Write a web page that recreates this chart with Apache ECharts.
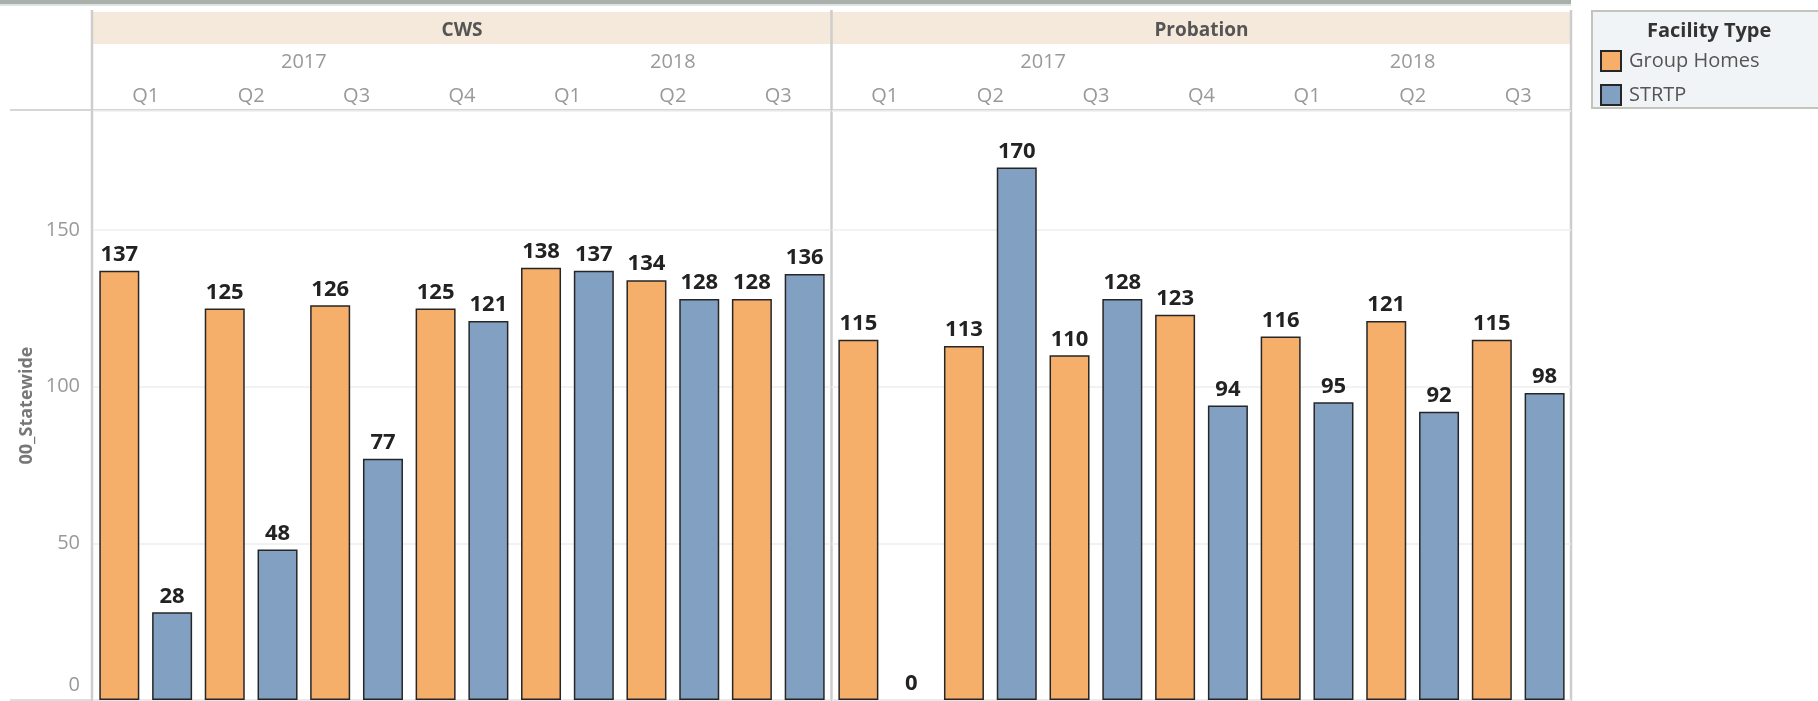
<!DOCTYPE html>
<html>
<head>
<meta charset="utf-8">
<script src="https://cdn.jsdelivr.net/npm/echarts@6/dist/echarts.min.js"></script>
<style>
  html, body { margin: 0; padding: 0; background: #fff; }
  #main { width: 1818px; height: 701px; }
</style>
</head>
<body>
<div id="main"></div>
<script>
'use strict'

// data
const panels = ['CWS', 'Probation'];
const years = ['2017', '2018'];
const quartersPerYear = [4, 3];
const quarters = ['Q1', 'Q2', 'Q3', 'Q4', 'Q1', 'Q2', 'Q3'];
const yTicks = [0, 50, 100, 150];

const cwsGroupHomes = [137, 125, 126, 125, 138, 134, 128];
const cwsStrtp = [28, 48, 77, 121, 137, 128, 136];
const probGroupHomes = [115, 113, 110, 123, 116, 121, 115];
const probStrtp = [0, 170, 128, 94, 95, 92, 98];

// layout
const font = '"Open Sans", "Liberation Sans", sans-serif';
const gridTop = 111;
const gridBottomY = 700;
const grids = [
    { left: 93, width: 738 },
    { left: 832, width: 739 }
];
const orange = '#F5AF6A';
const blue = '#82A0C1';

var myChart = echarts.init(document.getElementById('main'));

function barSeries(name, data, idx, color) {
    return {
        name: name,
        type: 'bar',
        xAxisIndex: idx,
        yAxisIndex: idx,
        // a zero bar has no visible outline
        data: data.map(function (v) {
            return v === 0 ? { value: v, itemStyle: { borderWidth: 0 } } : v;
        }),
        barWidth: 40,
        barGap: '32%',
        itemStyle: { color: color, borderColor: '#262626', borderWidth: 1.5 },
        label: {
            show: true,
            position: 'top',
            distance: 5,
            color: '#222',
            fontFamily: font,
            fontWeight: 'bold',
            fontSize: 22
        }
    };
}

// header texts and dividers
var graphics = [];
// top rule
graphics.push({ type: 'rect', shape: { x: 0, y: 0, width: 1571, height: 4 }, style: { fill: '#A9B0AB' } });
graphics.push({ type: 'rect', shape: { x: 0, y: 4, width: 1571, height: 2 }, style: { fill: '#DCE3E0' } });
// header band
graphics.push({ type: 'rect', shape: { x: 93, y: 12, width: 1478, height: 32 }, style: { fill: '#F4E9DA' } });
grids.forEach(function (g, i) {
    graphics.push({
        type: 'text', x: g.left + g.width / 2, y: 31,
        style: { text: panels[i], fill: '#555', font: 'bold 19px ' + font, align: 'center', verticalAlign: 'middle' }
    });
    let start = 0;
    years.forEach(function (yr, j) {
        let c = g.left + (start + quartersPerYear[j] / 2) / quarters.length * g.width;
        graphics.push({
            type: 'text', x: c, y: 62,
            style: { text: yr, fill: '#999', font: '20px ' + font, align: 'center', verticalAlign: 'middle' }
        });
        start += quartersPerYear[j];
    });
});
// rules
graphics.push({ type: 'line', shape: { x1: 10, y1: 110, x2: 1571, y2: 110 }, style: { stroke: '#D6D6D6', lineWidth: 2 } });
graphics.push({ type: 'line', shape: { x1: 10, y1: 700, x2: 1571, y2: 700 }, style: { stroke: '#DDDDDD', lineWidth: 2 } });
[92, 831.5, 1571].forEach(function (x) {
    graphics.push({ type: 'line', shape: { x1: x, y1: 10, x2: x, y2: 701 }, style: { stroke: '#CDCDCD', lineWidth: 2.5 } });
});
// legend box
graphics.push({
    type: 'rect', z: -1, shape: { x: 1592, y: 11, width: 240, height: 97 },
    style: { fill: '#F1F4F6', stroke: '#C4C4BC', lineWidth: 2 }
});

var option = {
    animation: false,
    backgroundColor: '#fff',
    title: {
        text: 'Facility Type',
        left: 1647,
        top: 21,
        padding: 0,
        textStyle: { color: '#333', fontFamily: font, fontWeight: 'bold', fontSize: 20 }
    },
    legend: {
        data: ['Group Homes', 'STRTP'],
        orient: 'vertical',
        left: 1600,
        top: 50,
        padding: 0,
        itemWidth: 20,
        itemHeight: 20,
        itemGap: 12,
        icon: 'rect',
        textStyle: { color: '#555', fontFamily: font, fontSize: 20, padding: [0, 0, 0, 3] }
    },
    grid: grids.map(function (g) {
        return { left: g.left, width: g.width, top: gridTop, height: gridBottomY - gridTop };
    }),
    xAxis: grids.map(function (g, i) {
        return {
            type: 'category',
            gridIndex: i,
            position: 'top',
            data: quarters,
            axisLine: { show: false },
            axisTick: { show: false },
            axisLabel: { color: '#999', fontFamily: font, fontSize: 20, margin: 5 }
        };
    }),
    yAxis: grids.map(function (g, i) {
        return {
            type: 'value',
            gridIndex: i,
            min: yTicks[0],
            max: 188,
            interval: yTicks[1] - yTicks[0],
            name: i === 0 ? '00_Statewide' : '',
            nameLocation: 'middle',
            nameRotate: 90,
            nameGap: 57,
            nameTextStyle: { color: '#777', fontFamily: font, fontSize: 18, fontWeight: 'bold' },
            axisLine: { show: false },
            axisTick: { show: false },
            splitLine: { lineStyle: { color: '#EEEEEE', width: 1.5 } },
            axisLabel: {
                show: i === 0,
                showMaxLabel: false,
                color: '#999',
                fontFamily: font,
                fontSize: 20,
                margin: 13,
                formatter: function (v) { return v === 0 ? '{z|0}' : String(v); },
                rich: { z: { color: '#999', fontFamily: font, fontSize: 20, padding: [0, 0, 30, 0] } }
            }
        };
    }),
    series: [
        barSeries('Group Homes', cwsGroupHomes, 0, orange),
        barSeries('STRTP', cwsStrtp, 0, blue),
        barSeries('Group Homes', probGroupHomes, 1, orange),
        barSeries('STRTP', probStrtp, 1, blue)
    ],
    graphic: graphics
};

myChart.setOption(option);
</script>
</body>
</html>
